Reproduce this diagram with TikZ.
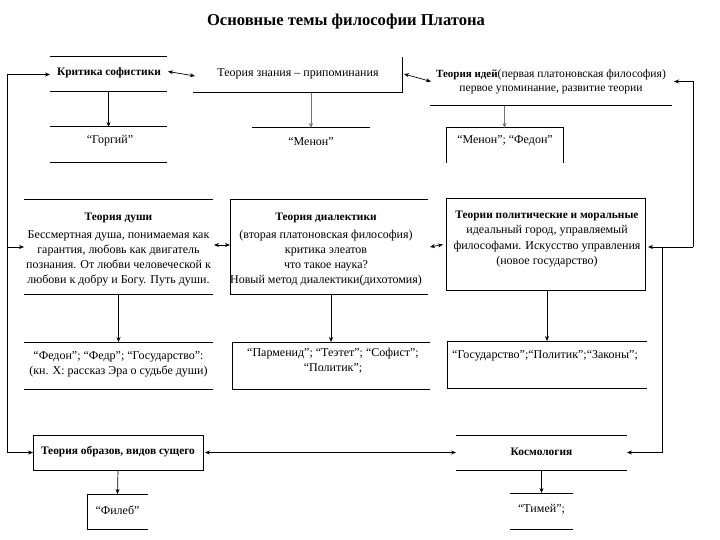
\documentclass[tikz,border=0pt]{standalone}
\usepackage{fontspec}
\setmainfont{Liberation Serif}
\usetikzlibrary{arrows.meta}
\newcommand\mkbox[5]{\node[boxn, minimum width={#4-#2}, minimum height={#5-#3}] (#1) at ({(#2+#4)/2},{(#3+#5)/2}) {};}
\begin{document}
\begin{tikzpicture}[x=1pt,y=-1pt,
  every node/.style={inner sep=0pt, outer sep=0pt},
  boxn/.style={draw=none, rectangle},
  txt/.style={font=\fontsize{12}{15}\selectfont, align=center},
  hd/.style={font=\bfseries\fontsize{11.4}{15}\selectfont, align=center},
  ln/.style={line width=1pt},
  arr/.style={-{Stealth[length=5pt,width=4pt]}, line width=0.7pt},
  darr/.style={{Stealth[length=5pt,width=4pt]}-{Stealth[length=5pt,width=4pt]}, line width=0.7pt},
  garr/.style={arr, draw=black!55}
]
\useasboundingbox[fill=white] (0,0) rectangle (720,540);

\node[font=\bfseries\fontsize{16.6}{20}\selectfont] (title) at (346,22) {Основные темы философии Платона};

% boxes
\mkbox{b1}{50}{57}{167}{92}
\mkbox{g1}{50}{127}{167}{163}
\mkbox{b2}{193}{57}{402}{93}
\mkbox{m2}{252}{128}{370}{163}
\mkbox{b3}{430}{57}{672}{106}
\mkbox{m3}{446}{128}{563}{163}
\mkbox{s}{24}{200}{213}{294}
\mkbox{d}{230}{200}{428}{294}
\mkbox{p}{446}{199}{645}{290}
\mkbox{f}{24}{342}{213}{389}
\mkbox{pa}{232}{342}{430}{389}
\mkbox{gs}{447}{341}{647}{388}
\mkbox{o}{33}{435}{203}{470}
\mkbox{k}{456}{435}{627}{470}
\mkbox{fi}{87}{494}{148}{529}
\mkbox{t}{510}{493}{573}{529}

% box edges
\draw[ln] (b1.north west) -- (b1.north east) (b1.south west) -- (b1.south east);
\draw[ln] (g1.north west) -- (g1.north east) (g1.south west) -- (g1.south east);
\draw[ln] (b2.south west) -- (b2.south east) -- (b2.north east);
\draw[ln] (m2.north west) -- (m2.north east);
\draw[ln] (b3.south west) -- (b3.south east);
\draw[ln] (m3.south west) -- (m3.north west) -- (m3.north east) -- (m3.south east);
\draw[ln] (s.north west) -- (s.north east) (s.south west) -- (s.south east);
\draw[ln] (d.north east) -- (d.north west) -- (d.south west) -- (d.south east);
\draw[ln] (p.north west) rectangle (p.south east);
\draw[ln] (f.north west) -- (f.north east) (f.south west) -- (f.south east);
\draw[ln] (pa.north east) -- (pa.north west) -- (pa.south west) -- (pa.south east);
\draw[ln] (gs.north east) -- (gs.north west) -- (gs.south west) -- (gs.south east);
\draw[ln] (o.north west) rectangle (o.south east);
\draw[ln] (k.north west) -- (k.north east) (k.south west) -- (k.south east);
\draw[ln] (fi.north east) -- (fi.north west) -- (fi.south west) -- (fi.south east);
\draw[ln] (t.north west) -- (t.north east) (t.south west) -- (t.south east);

% texts
\node[hd] (tb1) at (109,73) {Критика софистики};
\node[txt] (tg1) at (110,141) {“Горгий”};
\node[txt] (tb2) at (298,74) {Теория знания – припоминания};
\node[txt, font=\fontsize{11.6}{14.5}\selectfont] (tb3) at (551,81.5) {{\bfseries\fontsize{11}{14.5}\selectfont Теория идей}(первая платоновская философия)\\первое упоминание, развитие теории};
\node[txt] (tm3) at (505,141) {“Менон”; “Федон”};
\node[txt] (tm2) at (311,142) {“Менон”};
\node[txt] (ts) at (118.5,250) {{\bfseries\fontsize{11.4}{15}\selectfont Теория души}\\[3pt]Бессмертная душа, понимаемая как\\гарантия, любовь как двигатель\\познания. От любви человеческой к\\любови к добру и Богу. Путь души.};
\node[txt] (td) at (326,250) {{\bfseries\fontsize{11.4}{15}\selectfont Теория диалектики}\\[3pt](вторая платоновская философия)\\критика элеатов\\что такое наука?\\Новый метод диалектики(дихотомия)};
\node[txt, font=\fontsize{12}{15.5}\selectfont] (tp) at (547,239) {{\bfseries\fontsize{11.4}{15.5}\selectfont Теории политические и моральные}\\идеальный город, управляемый\\философами. Искусство управления\\(новое государство)};
\node[txt] (tf) at (118.5,364) {“Федон”; “Федр”; “Государство”:\\(кн. X: рассказ Эра о судьбе души)};
\node[txt] (tpa) at (333,361) {“Парменид”; “Теэтет”; “Софист”;\\“Политик”;};
\node[txt] (tgs) at (545,356) {“Государство”;“Политик”;“Законы”;};
\node[hd] (to) at (118,452) {Теория образов, видов сущего};
\node[hd] (tk) at (541.5,452) {Космология};
\node[txt] (tfi) at (117.5,510) {“Филеб”};
\node[txt] (tt) at (541.5,509) {“Тимей”;};

% left feeder
\coordinate (L1) at (7,74.5);
\coordinate (L3) at (7,452.5);
\draw[line width=0.7pt] (L1) -- (L3);
\draw[arr] (L1) -- (b1.west);
\draw[arr] (L1 |- s.west) -- (s.west);
\draw[arr] (L3) -- (o.west);

% right feeder
\coordinate (R1) at (693,81.5);
\coordinate (R2) at (693,247);
\coordinate (R3) at (662,247);
\coordinate (R4) at (662,452.5);
\draw[arr] (R2) -- (R1) -- ([xshift=2pt]b3.east);
\draw[arr] (R2) -- ([xshift=3pt]p.east |- R2);
\draw[arr] (R3) -- (R4) -- (k.east);

% horizontal links
\draw[darr] ([xshift=1pt,yshift=3pt]b1.east) -- ([xshift=2pt,yshift=-1pt]b2.west);
\draw[darr] ([xshift=2pt,yshift=1pt]b2.east) -- ([xshift=1pt]b3.west);
\draw[darr] ([xshift=1pt,yshift=2pt]s.east) -- ([yshift=2pt]d.west);
\draw[darr] ([xshift=2pt]d.east) -- ([xshift=-3pt]p.west);
\draw[darr] ([xshift=2pt]o.east) -- (k.west);

% vertical links
\draw[arr] (b1.south) -- (g1.north);
\draw[garr] (m2.north |- b2.south) -- (m2.north);
\draw[garr] (m3.north |- b3.south) -- (m3.north);
\draw[arr] (s.south) -- (f.north);
\draw[arr] (pa.north |- d.south) -- (pa.north);
\draw[arr] (gs.north |- p.south) -- (gs.north);
\draw[arr] (o.south) -- (fi.north);
\draw[arr] (k.south) -- (t.north);
\end{tikzpicture}
\end{document}
